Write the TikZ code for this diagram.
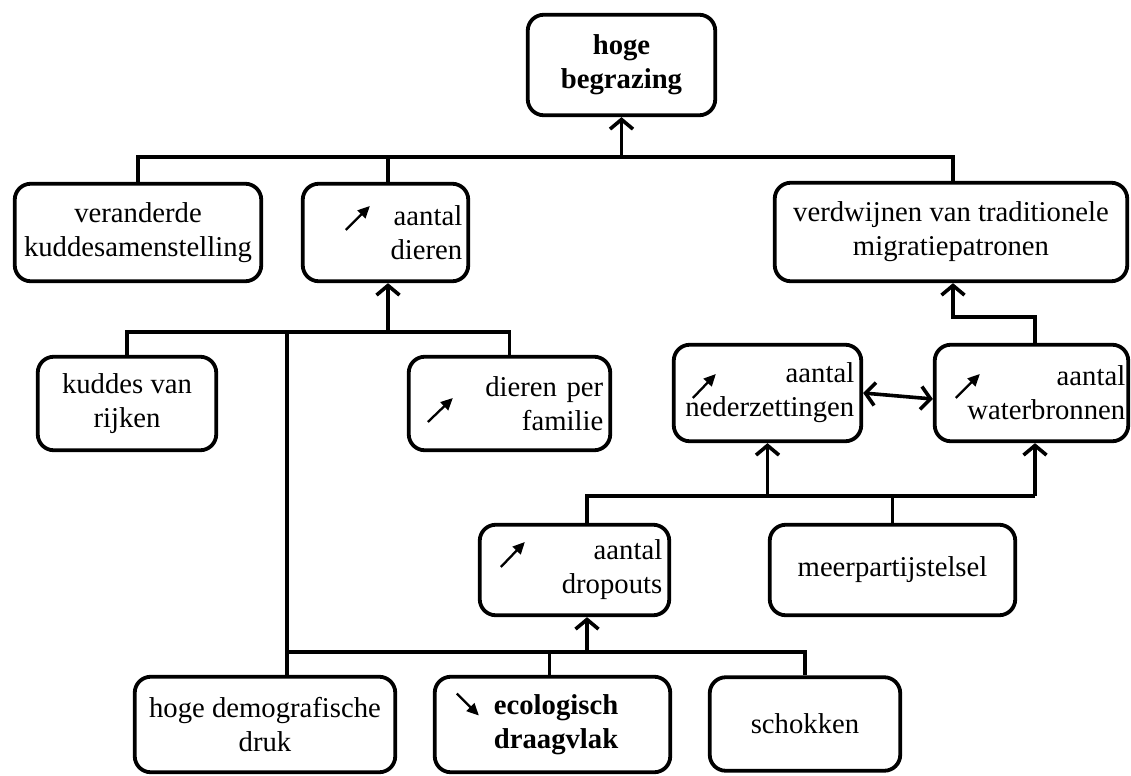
\documentclass[tikz,border=0pt]{standalone}
\usepackage{fontspec}
\setmainfont{Liberation Serif}
\usetikzlibrary{arrows.meta}
\newcommand\nodefont{\fontsize{14.35}{17}\selectfont}
\begin{document}
\begin{tikzpicture}[x=0.5pt,y=-0.5pt,
  box/.style={draw, line width=1.9pt, rounded corners=8pt, inner sep=0pt,
    align=center, font=\nodefont},
  rbox/.style={box, align=right},
  conn/.style={line width=1.8pt},
  arr/.style={conn, -{Straight Barb[length=4.8pt,width=11.5pt]}},
  dbl/.style={conn, {Straight Barb[length=4.8pt,width=11.5pt]}-{Straight Barb[length=4.8pt,width=11.5pt]}},
  trend/.style={line width=1.15pt, -{Triangle[length=6pt,width=5.5pt]}}
]
\useasboundingbox (0,0) rectangle (1131,776);

% boxes
\node[box, minimum width=93.75pt, minimum height=50.25pt, font=\nodefont\bfseries]
  (top) at (621.5,65) {hoge\\begrazing};
\node[box, minimum width=123.25pt, minimum height=48.75pt]
  (ver) at (138,232.5) {veranderde\\kuddesamenstelling};
\node[rbox, minimum width=82.75pt, minimum height=48.75pt, inner xsep=3pt, text width=76.75pt]
  (die) at (385.5,232.5) {aantal\\dieren};
\node[box, minimum width=176.25pt, minimum height=49.25pt]
  (mig) at (951,232) {verdwijnen van traditionele\\migratiepatronen};
\node[box, minimum width=89.25pt, minimum height=46.75pt]
  (kud) at (127,403.5) {kuddes van\\rijken};
\node[rbox, minimum width=100.75pt, minimum height=46.75pt, inner xsep=3.5pt, text width=93.75pt]
  (fam) at (509.5,403.5) {dieren per\\familie};
\node[rbox, minimum width=93.75pt, minimum height=48.25pt, inner xsep=3.5pt, text width=86.75pt]
  (ned) at (767.5,393) {aantal\\nederzettingen};
\node[rbox, minimum width=96.75pt, minimum height=48.25pt, inner xsep=1.5pt, text width=93.75pt]
  (wat) at (1031.5,393) {aantal\\waterbronnen};
\node[rbox, minimum width=94.75pt, minimum height=45.25pt, inner xsep=3.5pt, text width=87.75pt]
  (drp) at (574.5,570) {aantal\\dropouts};
\node[box, minimum width=122.75pt, minimum height=45.25pt]
  (mee) at (892.5,570) {meerpartijstelsel};
\node[box, minimum width=130.25pt, minimum height=47.75pt]
  (dem) at (265,724.5) {hoge demografische\\druk};
\node[rbox, minimum width=117.75pt, minimum height=47.75pt, inner xsep=26pt, text width=65.75pt,
  font=\nodefont\bfseries]
  (eco) at (552.5,724.5) {ecologisch\\draagvlak};
\node[box, minimum width=95.25pt, minimum height=46.75pt]
  (sch) at (805,724) {schokken};

% trend arrows inside the boxes
\draw[trend] ([shift={(45,-2.5)}]die.west) -- ++(24,-24);
\draw[trend] ([shift={(21,18.5)}]fam.west) -- ++(25,-24);
\draw[trend] ([shift={(21,5)}]ned.west) -- ++(23,-24);
\draw[trend] ([shift={(23,5)}]wat.west) -- ++(24,-24);
\draw[trend] ([shift={(23,-3)}]drp.west) -- ++(24,-25);
\draw[trend] ([shift={(24,-31)}]eco.west) -- ++(22,22);

% bus levels and offset attachment points
\coordinate (b1) at (0,157);
\coordinate (b2) at (0,332);
\coordinate (b3) at (0,652);
\coordinate (b4) at (0,496);
\coordinate (b5) at (0,317);
\coordinate (dieN) at ([shift={(2.5,0)}]die.north);
\coordinate (dieS) at ([shift={(2.5,0)}]die.south);
\coordinate (migN) at ([shift={(2,0)}]mig.north);
\coordinate (migS) at ([shift={(2,0)}]mig.south);
\coordinate (demN) at ([shift={(22,0)}]dem.north);
\coordinate (ecoN) at ([shift={(-3,0)}]eco.north);
\coordinate (drpN) at ([shift={(12.5,0)}]drp.north);
\coordinate (drpS) at ([shift={(12.5,0)}]drp.south);
\coordinate (watN) at ([shift={(3.5,0)}]wat.north);
\coordinate (watS) at ([shift={(3.5,0)}]wat.south);

% top level
\draw[conn] (ver.north) -- (ver.north |- b1) -- (migN |- b1) -- (migN);
\draw[conn] (dieN) -- (dieN |- b1);
\draw[arr] (top.south |- b1) -- (top.south);

% causes of the number of animals
\draw[conn] (kud.north) -- (kud.north |- b2) -- (fam.north |- b2) -- (fam.north);
\draw[arr] (dieS |- b2) -- (dieS);
\draw[conn] (demN |- b2) -- (demN);

% bottom row
\draw[conn] (demN |- b3) -- (sch.north |- b3) -- (sch.north);
\draw[conn] (ecoN) -- (ecoN |- b3);
\draw[arr] (drpS |- b3) -- (drpS);

% settlements and water sources
\draw[conn] (drpN) -- (drpN |- b4) -- (watS |- b4);
\draw[conn] (mee.north) -- (mee.north |- b4);
\draw[arr] (ned.south |- b4) -- (ned.south);
\draw[arr] (watS |- b4) -- (watS);
\draw[dbl] (ned.east) -- ([shift={(0,6)}]wat.west);
\draw[arr] (watN) -- (watN |- b5) -- (migS |- b5) -- (migS);
\end{tikzpicture}
\end{document}
